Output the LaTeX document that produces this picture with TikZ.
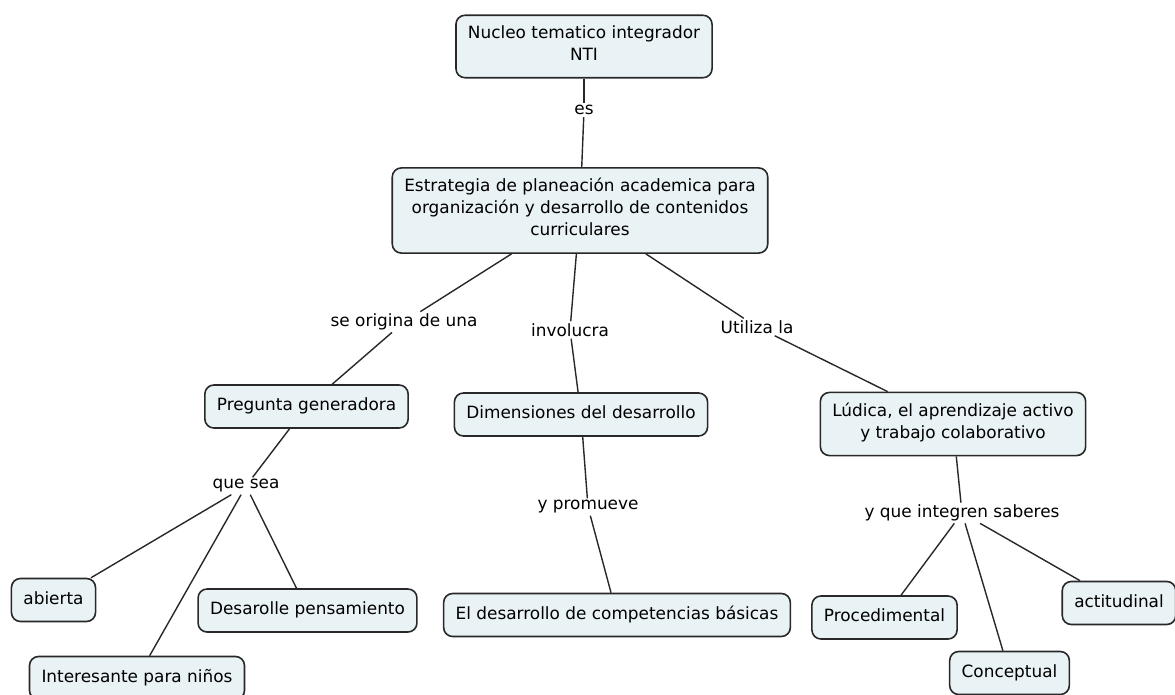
\documentclass[tikz,border=0pt]{standalone}
\usepackage{fontspec}
\setmainfont{DejaVu Sans}
\definecolor{cmapfill}{RGB}{233,242,244}
\definecolor{cmapline}{RGB}{40,40,40}

\begin{document}
\begin{tikzpicture}[x=1pt, y=-1pt,
    concept/.style={draw=cmapline, line width=1.6pt, fill=cmapfill,
      rounded corners=9pt, inner xsep=12pt, inner ysep=10.5pt, align=center,
      font=\fontsize{16.9}{22}\selectfont,
      execute at begin node=\strut, execute at end node=\strut},
    link/.style={inner sep=2pt, font=\fontsize{16.9}{22}\selectfont},
    conn/.style={draw=cmapline, line width=1.4pt}]
\useasboundingbox (0,0) rectangle (1175,695);

% concepts
\node[concept] (nti) at (584,46.5) {Nucleo tematico integrador\\NTI};
\node[concept] (estr) at (580,210.5) {Estrategia de planeación academica para\\organización y desarrollo de contenidos\\curriculares};
\node[concept] (preg) at (306.5,406.5) {Pregunta generadora};
\node[concept] (dim) at (581,414.5) {Dimensiones del desarrollo};
\node[concept] (lud) at (953,424) {Lúdica, el aprendizaje activo\\y trabajo colaborativo};
\node[concept] (abierta) at (53.5,600) {abierta};
\node[concept] (interes) at (137,678) {Interesante para niños};
\node[concept] (desar) at (307.5,610.5) {Desarolle pensamiento};
\node[concept] (compet) at (617,615) {El desarrollo de competencias básicas};
\node[concept] (proc) at (884.5,617.5) {Procedimental};
\node[concept] (concep) at (1009.5,673) {Conceptual};
\node[concept] (actit) at (1119,603) {actitudinal};

% linking phrases
\node[link] (es) at (584,110) {es};
\node[link] (origina) at (404,322) {se origina de una};
\node[link] (involucra) at (570,330) {involucra};
\node[link] (utiliza) at (757,327) {Utiliza la};
\node[link] (quesea) at (246,486) {que sea};
\node[link] (promueve) at (588,507) {y promueve};
\node[link] (integren) at (962,513) {y que integren saberes};

% connectors
\draw[conn] (nti) -- (es);
\draw[conn] (es) -- (estr);
\draw[conn] (estr) -- (origina);
\draw[conn] (origina) -- (preg);
\draw[conn] (estr) -- (involucra);
\draw[conn] (involucra) -- (dim);
\draw[conn] (estr) -- (utiliza);
\draw[conn] (utiliza) -- (lud);
\draw[conn] (preg) -- (quesea);
\path (quesea) edge[conn] (abierta) edge[conn] (interes) edge[conn] (desar);
\draw[conn] (dim) -- (promueve);
\draw[conn] (promueve) -- (compet);
\draw[conn] (lud) -- (integren);
\path (integren) edge[conn] (proc) edge[conn] (concep) edge[conn] (actit);
\end{tikzpicture}
\end{document}
